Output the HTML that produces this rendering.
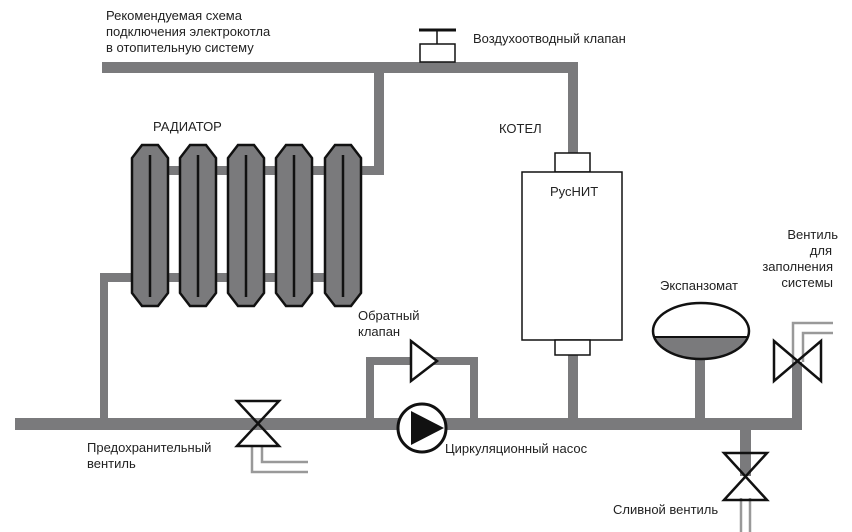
<!DOCTYPE html>
<html><head><meta charset="utf-8"><style>
html,body{margin:0;padding:0;background:#fff;}
svg{display:block;}
text{font-family:"Liberation Sans",Arial,sans-serif;font-size:13px;fill:#222;}
</style></head><body>
<svg width="852" height="532" viewBox="0 0 852 532" xmlns="http://www.w3.org/2000/svg">
<defs><clipPath id="lo"><rect x="600" y="337" width="200" height="40"/></clipPath></defs>
<g fill="#7a7a7c">
<rect x="102" y="62" width="476" height="11"/>
<rect x="568" y="62" width="10" height="92"/>
<rect x="374" y="62" width="10" height="113"/>
<rect x="140" y="166" width="244" height="9"/>
<rect x="140" y="273" width="220" height="9"/>
<rect x="100" y="273" width="40" height="9"/>
<rect x="100" y="273" width="8" height="152"/>
<rect x="15" y="418" width="787" height="12"/>
<rect x="366" y="357" width="112" height="8"/>
<rect x="366" y="357" width="8" height="65"/>
<rect x="470" y="357" width="8" height="65"/>
<rect x="568" y="352" width="10" height="70"/>
<rect x="695" y="355" width="10" height="65"/>
<rect x="792" y="362" width="10" height="62"/>
<rect x="740" y="428" width="11" height="48"/>
</g>
<g fill="#7a7a7c" stroke="#111" stroke-width="2.5">
<polygon points="142,145 158,145 168,158 168,293 158,306 142,306 132,293 132,158"/>
<polygon points="190,145 206,145 216,158 216,293 206,306 190,306 180,293 180,158"/>
<polygon points="238,145 254,145 264,158 264,293 254,306 238,306 228,293 228,158"/>
<polygon points="286,145 302,145 312,158 312,293 302,306 286,306 276,293 276,158"/>
<polygon points="335,145 351,145 361,158 361,293 351,306 335,306 325,293 325,158"/>
</g>
<g stroke="#111" stroke-width="2.5">
<line x1="150" y1="155" x2="150" y2="297"/>
<line x1="198" y1="155" x2="198" y2="297"/>
<line x1="246" y1="155" x2="246" y2="297"/>
<line x1="294" y1="155" x2="294" y2="297"/>
<line x1="343" y1="155" x2="343" y2="297"/>
</g>
<g stroke="#111" stroke-width="1.5" fill="#fff">
<rect x="420" y="44" width="35" height="18"/>
<line x1="437" y1="30" x2="437" y2="44"/>
</g>
<line x1="419" y1="30" x2="456" y2="30" stroke="#111" stroke-width="3"/>
<g stroke="#111" stroke-width="1.5" fill="#fff">
<rect x="555" y="153" width="35" height="19"/>
<rect x="522" y="172" width="100" height="168"/>
<rect x="555" y="340" width="35" height="15"/>
</g>
<polygon points="411,341 437,361 411,381" fill="#fff" stroke="#111" stroke-width="2.5"/>
<circle cx="422" cy="428" r="24" fill="#fff" stroke="#111" stroke-width="3"/>
<polygon points="411,411 444,428 411,445" fill="#111"/>
<g fill="none" stroke="#999" stroke-width="2.5">
<polyline points="252,447 252,472 308,472"/>
<polyline points="262,447 262,462 308,462"/>
</g>
<polygon points="237,401 279,401 237,446 279,446" fill="none" stroke="#111" stroke-width="2.5"/>
<ellipse cx="701" cy="331" rx="48" ry="28" fill="#7a7a7c" clip-path="url(#lo)"/>
<ellipse cx="701" cy="331" rx="48" ry="28" fill="none" stroke="#111" stroke-width="2.5"/>
<line x1="654" y1="337" x2="748" y2="337" stroke="#111" stroke-width="2"/>
<g fill="none" stroke="#999" stroke-width="2.5">
<polyline points="793,362 793,323 833,323"/>
<polyline points="803,362 803,333 833,333"/>
</g>
<polygon points="774,341 774,381 821,341 821,381" fill="none" stroke="#111" stroke-width="2.5"/>
<g fill="none" stroke="#999" stroke-width="2.5">
<line x1="741" y1="498" x2="741" y2="532"/>
<line x1="750" y1="498" x2="750" y2="532"/>
</g>
<polygon points="724,453 767,453 724,500 767,500" fill="none" stroke="#111" stroke-width="2.5"/>
<text x="106" y="20">Рекомендуемая схема</text>
<text x="106" y="36">подключения электрокотла</text>
<text x="106" y="52">в отопительную систему</text>
<text x="153" y="131">РАДИАТОР</text>
<text x="473" y="43">Воздухоотводный клапан</text>
<text x="499" y="133">КОТЕЛ</text>
<text x="550" y="196">РусНИТ</text>
<text x="838" y="239" text-anchor="end">Вентиль</text>
<text x="832" y="255" text-anchor="end">для</text>
<text x="833" y="271" text-anchor="end">заполнения</text>
<text x="833" y="287" text-anchor="end">системы</text>
<text x="660" y="290">Экспанзомат</text>
<text x="358" y="320">Обратный</text>
<text x="358" y="336">клапан</text>
<text x="87" y="452">Предохранительный</text>
<text x="87" y="468">вентиль</text>
<text x="445" y="453">Циркуляционный насос</text>
<text x="613" y="514">Сливной вентиль</text>
</svg>
</body></html>
